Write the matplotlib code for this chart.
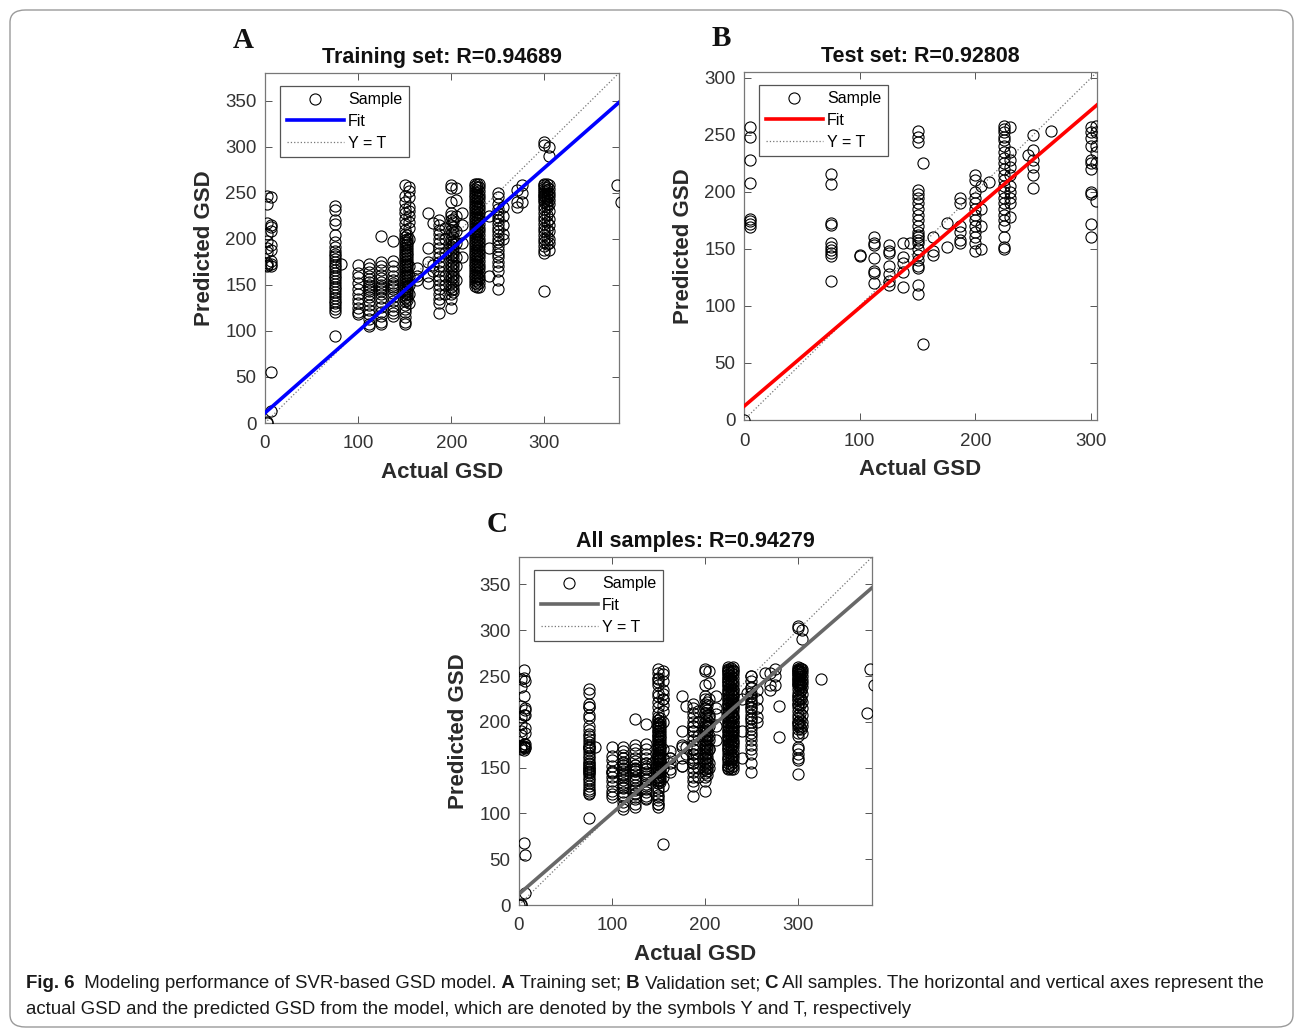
import matplotlib
matplotlib.use("Agg")
import matplotlib.pyplot as plt
from matplotlib.lines import Line2D
from matplotlib.patches import FancyBboxPatch

# ---- data ----
# Panel A: training set, columns of predicted GSD per actual GSD value
train_actual = [2, 6, 75, 82, 100, 112, 125, 137, 150, 152, 155, 163, 175, 180, 187, 193,
                200, 202, 205, 212, 225, 228, 230, 240, 250, 256, 270, 276, 300, 303, 305, 378, 382]
train_pred = [
    [247, 238, 217, 205, 198, 190, 186, 174, 172, 170, 0, 1],
    [245, 215, 213, 208, 193, 188, 176, 173, 171, 55, 13],
    [236, 231, 220, 216, 204, 196, 191, 187, 184, 181, 178, 175, 172, 169, 166, 163, 160,
     157, 154, 151, 148, 145, 142, 139, 136, 133, 130, 127, 124, 121, 95],
    [173],
    [172, 163, 158, 152, 146, 140, 135, 130, 125, 121, 118],
    [173, 168, 164, 160, 156, 153, 150, 148, 146, 143, 140, 137, 133, 128, 123, 118, 113, 108, 105],
    [203, 175, 170, 166, 161, 157, 153, 150, 148, 146, 143, 140, 136, 131, 126, 121, 116, 110, 107],
    [198, 176, 170, 165, 160, 155, 152, 150, 148, 145, 141, 137, 132, 127, 123, 119, 116],
    [258, 247, 240, 232, 228, 222, 216, 210, 205, 202, 199, 196, 193, 190, 187, 184, 181, 178,
     175, 172, 169, 166, 163, 160, 157, 154, 151, 148, 145, 142, 139, 136, 133, 128, 124, 120,
     115, 110, 107],
    [204, 200, 197, 194, 191, 188, 185, 182, 179, 176, 173, 170, 167, 164, 161, 158, 155, 152,
     149, 146, 143, 140, 137, 134],
    [256, 252, 245, 235, 230, 225, 218, 212, 200, 170, 160, 150, 140, 130],
    [168, 160, 155],
    [228, 190, 175, 160, 152],
    [217, 172, 165],
    [220, 215, 210, 205, 200, 195, 190, 185, 180, 175, 170, 165, 160, 155, 150, 145, 140, 135, 130, 119],
    [212, 200, 185, 160, 150, 140],
    [258, 255, 240, 228, 225, 220, 215, 210, 205, 200, 196, 192, 188, 184, 180, 176, 172, 168,
     164, 160, 156, 152, 148, 144, 140, 135, 125],
    [222, 218, 213, 207, 202, 198, 194, 190, 186, 182, 178, 174, 170, 166, 162, 158, 154, 150, 146, 142],
    [255, 242, 225, 208, 195, 180, 170, 155],
    [228, 215, 195, 180],
    [260, 257, 254, 251, 248, 245, 242, 239, 236, 233, 230, 227, 224, 221, 218, 215, 212, 209,
     206, 203, 200, 197, 194, 191, 188, 185, 182, 179, 176, 173, 170, 167, 164, 161, 158, 155,
     152, 149],
    [259, 256, 253, 250, 247, 244, 241, 238, 235, 232, 229, 226, 223, 220, 217, 214, 211, 208,
     205, 202, 199, 196, 193, 190, 187, 184, 181, 178, 175, 172, 169, 166, 163, 160, 157, 154,
     151, 148],
    [260, 256, 252, 248, 244, 240, 236, 232, 228, 224, 220, 216, 212, 208, 204, 200, 196, 192,
     188, 184, 180, 176, 172, 168, 164, 160, 156, 152, 148],
    [225, 190, 160],
    [250, 245, 238, 232, 228, 224, 220, 216, 212, 208, 204, 200, 196, 192, 188, 184, 180, 175,
     170, 165, 155, 145],
    [235, 225, 215, 205, 200],
    [253, 240, 235],
    [258, 250, 240],
    [305, 302, 260, 258, 256, 254, 252, 250, 248, 246, 244, 242, 240, 236, 232, 228, 224, 220,
     216, 212, 208, 204, 200, 196, 192, 188, 185, 143],
    [259, 256, 253, 250, 247, 244, 241, 238, 234, 226, 218, 210, 202, 194],
    [300, 290, 258, 254, 250, 246, 242, 238, 230, 222, 215, 208, 200, 195, 188],
    [258],
    [240],
]

# Panel B: test set
test_actual = [0, 5, 75, 100, 112, 125, 137, 143, 150, 155, 163, 175, 187, 200, 205, 212,
               225, 230, 245, 250, 265, 300, 304]
test_pred = [
    [0],
    [257, 248, 228, 208, 176, 174, 172, 169],
    [216, 207, 173, 171, 155, 152, 149, 146, 144, 122],
    [145, 144],
    [160, 155, 153, 142, 131, 129, 120],
    [153, 148, 146, 135, 128, 122, 118],
    [155, 143, 138, 130, 117],
    [155],
    [253, 248, 244, 202, 198, 195, 190, 185, 180, 175, 170, 165, 162, 160, 158, 155, 150, 145,
     140, 135, 133, 118, 110],
    [225, 67],
    [160, 148, 145],
    [173, 152],
    [195, 190, 170, 165, 158, 155],
    [215, 210, 200, 195, 190, 185, 180, 175, 170, 165, 160, 155, 148],
    [205, 185, 170, 150],
    [209],
    [258, 255, 252, 248, 245, 240, 235, 230, 225, 220, 215, 210, 205, 200, 195, 190, 185, 180,
     175, 170, 160, 152, 150],
    [257, 235, 228, 222, 215, 205, 200, 195, 190, 178],
    [232],
    [250, 237, 228, 222, 215, 203],
    [253],
    [257, 252, 247, 240, 228, 225, 220, 200, 198, 172, 160],
    [258, 252, 240, 235, 225, 192],
]

# extra samples only visible in panel C
extra_actual = [5, 280, 300, 325, 375]
extra_pred = [[68], [217, 183], [170, 165, 158], [247], [210]]

# fitted lines (slope, intercept)
fit_train = (0.887, 11)
fit_test = (0.866, 12)
fit_all = (0.880, 12)

titles = ["Training set: R=0.94689", "Test set: R=0.92808", "All samples: R=0.94279"]
letters = ["A", "B", "C"]
fit_colors = ["#0000ff", "#ff0000", "#686868"]
x_limits = [380, 305, 380]
y_limits = [380, 305, 380]
y_ticks = [[0, 50, 100, 150, 200, 250, 300, 350],
           [0, 50, 100, 150, 200, 250, 300],
           [0, 50, 100, 150, 200, 250, 300, 350]]
x_ticks = [0, 100, 200, 300]

caption_1 = [("Fig. 6", "bold"), ("  Modeling performance of SVR-based GSD model.", "normal"),
             (" A", "bold"), (" Training set;", "normal"), (" B", "bold"),
             (" Validation set;", "normal"), (" C", "bold"),
             (" All samples. The horizontal and vertical axes represent the", "normal")]
caption_2 = [("actual GSD and the predicted GSD from the model, which are denoted by "
              "the symbols Y and T, respectively", "normal")]


def flatten(actual, pred):
    xs, ys = [], []
    for x, col in zip(actual, pred):
        xs += [x] * len(col)
        ys += col
    return xs, ys


tx, ty = flatten(train_actual, train_pred)
vx, vy = flatten(test_actual, test_pred)
ex, ey = flatten(extra_actual, extra_pred)
panels = [(tx, ty, fit_train), (vx, vy, fit_test), (tx + vx + ex, ty + vy + ey, fit_all)]

W, H = 1295, 1029
fig = plt.figure(figsize=(W / 100, H / 100), dpi=100)
plt.rcParams["font.family"] = ["Liberation Sans", "DejaVu Sans"]

# axes rectangles in pixels: left, top, right, bottom
rects = [(265, 73, 619, 423), (744, 72, 1097, 420), (519, 557, 872, 905)]

for i, (xs, ys, fit) in enumerate(panels):
    l, t, r, b = rects[i]
    ax = fig.add_axes([l / W, 1 - b / H, (r - l) / W, (b - t) / H])
    ax.plot(xs, ys, "o", mfc="none", mec="black", mew=0.8, ms=8, ls="none", zorder=3)
    xl = x_limits[i]
    ax.plot([0, xl], [fit[1], fit[0] * xl + fit[1]], color=fit_colors[i], lw=2.6, zorder=4)
    ax.plot([0, xl], [0, xl], ls=":", color="#777777", lw=0.9, zorder=2)
    ax.set_xlim(0, xl)
    ax.set_ylim(0, y_limits[i])
    ax.set_xticks(x_ticks)
    ax.set_yticks(y_ticks[i])
    ax.tick_params(direction="in", top=True, right=True, length=5, width=0.7,
                   labelsize=13.5, colors="#555555", labelcolor="#333333", pad=6)
    ax.tick_params(axis="x", pad=9)
    for s in ax.spines.values():
        s.set_color("#777777")
        s.set_linewidth(0.9)
    ax.set_xlabel("Actual GSD", fontsize=16, fontweight="bold", color="#2a2a2a", labelpad=7)
    ax.set_ylabel("Predicted GSD", fontsize=16, fontweight="bold", color="#2a2a2a", labelpad=7)
    ax.set_title(titles[i], fontsize=15.5, fontweight="bold", color="#111111", pad=7)

    handles = [
        Line2D([], [], marker="o", mfc="none", mec="black", mew=0.8, ms=8, ls="none"),
        Line2D([], [], color=fit_colors[i], lw=2.6),
        Line2D([], [], color="#777777", lw=0.9, ls=":"),
    ]
    leg = ax.legend(handles, ["Sample", "Fit", "Y = T"], loc="upper left",
                    bbox_to_anchor=(0.043, 0.963), borderaxespad=0, fontsize=11.5,
                    handlelength=3.6, handletextpad=0.25, labelspacing=0.42,
                    borderpad=0.4, fancybox=False, framealpha=1, numpoints=1)
    leg.get_frame().set_edgecolor("#555555")
    leg.get_frame().set_linewidth(0.9)

    fig.text((l - 32) / W, 1 - (t - 33) / H, letters[i], family="Liberation Serif",
             fontweight="bold", fontsize=21, ha="left", va="center", color="#111111")

# border around figure panel
fig.patches.append(FancyBboxPatch((10 / W, 2 / H), 1283 / W, 1017 / H,
                                  boxstyle="round,pad=0,rounding_size=0.012",
                                  transform=fig.transFigure, fill=False,
                                  edgecolor="#9a9a9a", lw=1.0))

# caption with bold fragments, sized so the first line spans the panel width
renderer = fig.canvas.get_renderer()


def caption_line(x_px, y_px, segments, size):
    x = x_px / W
    texts = []
    for text, weight in segments:
        t = fig.text(x, 1 - y_px / H, text, fontweight=weight, fontsize=size,
                     family=["Liberation Sans", "DejaVu Sans"], va="center",
                     ha="left", color="#1a1a1a")
        x += t.get_window_extent(renderer).width / W
        texts.append(t)
    return texts, x * W - x_px


probe, width = caption_line(26, 984, caption_1, 14)
for t in probe:
    t.remove()
size = 14 * 1250 / width
caption_line(26, 984, caption_1, size)
caption_line(26, 1010, caption_2, size)

fig.savefig("out.png", dpi=100)
